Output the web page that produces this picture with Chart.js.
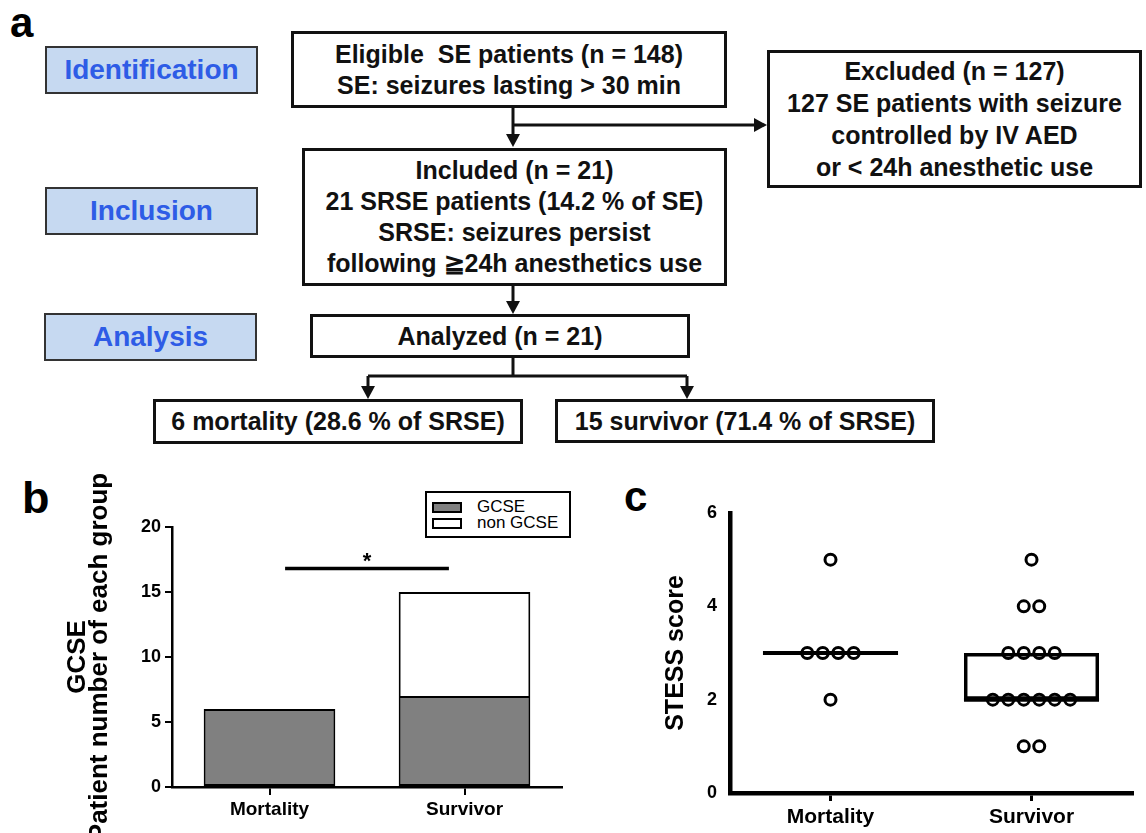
<!DOCTYPE html>
<html>
<head>
<meta charset="utf-8">
<script src="https://cdn.jsdelivr.net/npm/chart.js@4"></script>
<style>
  body { margin: 0; width: 1146px; height: 833px; background: #fff; position: relative; overflow: hidden;
         font-family: "Liberation Sans", Arial, sans-serif; }
  .abs { position: absolute; box-sizing: border-box; }
  .box { border: 3px solid #111; display: flex; flex-direction: column; justify-content: center; align-items: center;
         text-align: center; font-weight: bold; font-size: 25px; line-height: 31px; color: #111; white-space: nowrap; background: #fff; }
  .stage { border: 2px solid #333; background: #c6d9f1; color: #2e5ce6; font-weight: bold; font-size: 28px;
           display: flex; justify-content: center; align-items: center; }
  .panel { font-weight: bold; color: #000; line-height: 1; }
  #legendB { border: 2px solid #000; background: #fff; font-size: 17px; color: #000; }
  #legendB .sw { position: absolute; width: 30px; height: 11px; border: 2px solid #000; box-sizing: border-box; }
  #legendB .lb { position: absolute; line-height: 16px; white-space: nowrap; }
</style>
</head>
<body>

<div class="abs panel" style="left:10px;top:2px;font-size:42px;">a</div>
<div class="abs panel" style="left:22px;top:475px;font-size:45px;">b</div>
<div class="abs panel" style="left:624px;top:476px;font-size:42px;">c</div>

<!-- flow chart, panel a -->
<div class="abs stage" style="left:45px;top:46px;width:213px;height:48px;">Identification</div>
<div class="abs stage" style="left:45px;top:187px;width:213px;height:48px;">Inclusion</div>
<div class="abs stage" style="left:44px;top:313px;width:213px;height:48px;">Analysis</div>

<div class="abs box" style="left:291px;top:31px;width:436px;height:77px;">
  <div>Eligible&nbsp; SE patients (n = 148)</div>
  <div>SE: seizures lasting &gt; 30 min</div>
</div>
<div class="abs box" style="left:767px;top:50px;width:375px;height:138px;line-height:32px;">
  <div>Excluded (n = 127)</div>
  <div>127 SE patients with seizure</div>
  <div>controlled by IV AED</div>
  <div>or &lt; 24h anesthetic use</div>
</div>
<div class="abs box" style="left:302px;top:148px;width:425px;height:138px;">
  <div>Included (n = 21)</div>
  <div>21 SRSE patients (14.2 % of SE)</div>
  <div>SRSE: seizures persist</div>
  <div>following ≧24h anesthetics use</div>
</div>
<div class="abs box" style="left:310px;top:314px;width:380px;height:44px;">
  <div>Analyzed (n = 21)</div>
</div>
<div class="abs box" style="left:153px;top:399px;width:370px;height:45px;">
  <div>6 mortality (28.6 % of SRSE)</div>
</div>
<div class="abs box" style="left:555px;top:399px;width:380px;height:44px;">
  <div>15 survivor (71.4 % of SRSE)</div>
</div>

<svg class="abs" style="left:0;top:0;" width="1146" height="470">
  <g stroke="#111" stroke-width="3" fill="none">
    <line x1="513" y1="108" x2="513" y2="136"/>
    <line x1="513" y1="125" x2="756" y2="125"/>
    <line x1="513" y1="286" x2="513" y2="303"/>
    <line x1="513" y1="358" x2="513" y2="377"/>
    <line x1="368" y1="376" x2="687" y2="376"/>
    <line x1="368" y1="376" x2="368" y2="388"/>
    <line x1="687" y1="376" x2="687" y2="388"/>
  </g>
  <g fill="#111">
    <polygon points="506,134 520,134 513,147"/>
    <polygon points="754,118 754,132 767,125"/>
    <polygon points="506,301 520,301 513,314"/>
    <polygon points="361,386 375,386 368,399"/>
    <polygon points="680,386 694,386 687,399"/>
  </g>
</svg>

<div id="legendB" class="abs" style="left:425px;top:491px;width:146px;height:47px;"></div>

<canvas id="chartB" class="abs" style="left:0;top:470px;" width="580" height="363"></canvas>
<canvas id="chartC" class="abs" style="left:580px;top:470px;" width="566" height="363"></canvas>

<script>
// panel b data
const groups = ['Mortality', 'Survivor'];
const gcseCounts = [6, 7];
const nonGcseCounts = [0, 8];
const seriesNames = ['GCSE', 'non GCSE'];
const seriesFills = ['#808080', '#ffffff'];
const countTicks = [0, 5, 10, 15, 20];
const sigLevel = 16.8;
const sigSpan = [0.08, 0.92];

// panel c data
const mortalityStess = [5, 3, 3, 3, 3, 2];
const survivorStess = [5, 4, 4, 3, 3, 3, 3, 2, 2, 2, 2, 2, 2, 1, 1];
const boxLow = [3, 2];
const boxHigh = [3, 3];
const medians = [3, 2];
const stessTicks = [0, 2, 4, 6];

Chart.defaults.font.family = '"Liberation Sans", Arial, sans-serif';
Chart.defaults.color = '#000';
Chart.defaults.animation = false;

// html legend built from the series names
const legendEl = document.getElementById('legendB');
seriesNames.forEach((name, i) => {
    const sw = document.createElement('span');
    sw.className = 'sw';
    sw.style.left = '5px';
    sw.style.top = (9 + i * 16) + 'px';
    sw.style.background = seriesFills[i];
    legendEl.appendChild(sw);
    const lb = document.createElement('span');
    lb.className = 'lb';
    lb.style.left = '50px';
    lb.style.top = (6 + i * 16) + 'px';
    lb.textContent = name;
    legendEl.appendChild(lb);
});

const sigPlugin = {
    id: 'sig',
    afterDatasetsDraw(chart) {
        const { ctx, scales: { x, y } } = chart;
        const yy = y.getPixelForValue(sigLevel);
        const x0 = x.getPixelForValue(sigSpan[0]);
        const x1 = x.getPixelForValue(sigSpan[1]);
        ctx.save();
        ctx.strokeStyle = '#000';
        ctx.lineWidth = 3.5;
        ctx.beginPath();
        ctx.moveTo(x0, yy);
        ctx.lineTo(x1, yy);
        ctx.stroke();
        ctx.fillStyle = '#000';
        ctx.font = 'bold 22px "Liberation Sans", Arial, sans-serif';
        ctx.textAlign = 'center';
        ctx.textBaseline = 'alphabetic';
        ctx.fillText('*', (x0 + x1) / 2, yy - 1);
        ctx.restore();
    }
};

new Chart(document.getElementById('chartB'), {
    type: 'bar',
    data: {
        labels: groups,
        datasets: [
            {
                label: seriesNames[0],
                data: gcseCounts,
                backgroundColor: seriesFills[0],
                borderColor: '#000',
                borderWidth: 2,
                borderSkipped: false,
            },
            {
                label: seriesNames[1],
                data: nonGcseCounts,
                backgroundColor: seriesFills[1],
                borderColor: '#000',
                borderWidth: 2,
                borderSkipped: 'start', // shares the edge with the grey segment below
            },
        ],
    },
    options: {
        responsive: false,
        categoryPercentage: 1,
        barPercentage: 0.675,
        layout: { padding: { top: 57, right: 18, left: 0, bottom: 0 } },
        plugins: { legend: { display: false }, tooltip: { enabled: false } },
        scales: {
            x: {
                stacked: true,
                grid: { offset: false, drawOnChartArea: false, tickLength: 8, color: '#000', lineWidth: 2 },
                border: { color: '#000', width: 2.5 },
                ticks: { font: { size: 19, weight: 'bold' }, padding: 3 },
                afterFit: (s) => { s.height = 46; },
            },
            y: {
                stacked: true,
                min: countTicks[0],
                max: countTicks[countTicks.length - 1],
                afterBuildTicks: (s) => { s.ticks = countTicks.map(v => ({ value: v })); },
                grid: { drawOnChartArea: false, tickLength: 7, color: '#000', lineWidth: 2 },
                border: { color: '#000', width: 2.5 },
                ticks: { font: { size: 18, weight: 'bold' }, padding: 4 },
                title: {
                    display: true,
                    text: ['GCSE', 'Patient number of each group'],
                    font: { size: 26, weight: 'bold', lineHeight: 0.88 },
                    padding: { top: 66, bottom: 0 },
                },
                afterFit: (s) => { s.width = 172; },
            },
        },
    },
    plugins: [sigPlugin],
});

// spread equal values side by side around the group position
const dotGap = 0.077;
function swarm(values, center) {
    const counts = {};
    values.forEach(v => { counts[v] = (counts[v] || 0) + 1; });
    const seen = {};
    return values.map(v => {
        seen[v] = (seen[v] || 0) + 1;
        return { x: center + (seen[v] - 1 - (counts[v] - 1) / 2) * dotGap, y: v };
    });
}
const halfBox = 0.336;

new Chart(document.getElementById('chartC'), {
    type: 'bar',
    data: {
        datasets: [
            {
                type: 'line',
                data: swarm(mortalityStess, 0).concat(swarm(survivorStess, 1)),
                showLine: false,
                pointRadius: 5.5,
                pointBorderWidth: 3,
                pointBorderColor: '#000',
                pointBackgroundColor: 'rgba(0,0,0,0)',
                order: 0,
            },
            ...medians.map((m, i) => ({
                type: 'line',
                data: [{ x: i - halfBox, y: m }, { x: i + halfBox, y: m }],
                borderColor: '#000',
                borderWidth: 4,
                pointRadius: 0,
                order: 1,
            })),
            {
                type: 'bar',
                data: boxLow.map((lo, i) => ({ x: i, y: [lo, boxHigh[i]] })),
                backgroundColor: 'rgba(0,0,0,0)',
                borderColor: '#000',
                borderWidth: 3.5,
                borderSkipped: false,
                categoryPercentage: 1,
                barPercentage: 0.672,
                order: 2,
            },
        ],
    },
    options: {
        responsive: false,
        layout: { padding: { top: 43, right: 14, left: 0, bottom: 0 } },
        plugins: { legend: { display: false }, tooltip: { enabled: false } },
        scales: {
            x: {
                type: 'linear',
                offset: false,
                min: -0.5,
                max: 1.5,
                afterBuildTicks: (s) => { s.ticks = groups.map((g, i) => ({ value: i })); },
                grid: { offset: false, drawOnChartArea: false, tickLength: 8, color: '#000', lineWidth: 3 },
                border: { color: '#000', width: 4.5 },
                ticks: { font: { size: 21, weight: 'bold' }, padding: 4, callback: (v) => groups[v] },
                afterFit: (s) => { s.height = 40; },
            },
            y: {
                min: stessTicks[0],
                max: stessTicks[stessTicks.length - 1],
                afterBuildTicks: (s) => { s.ticks = stessTicks.map(v => ({ value: v })); },
                grid: { drawOnChartArea: false, drawTicks: false, color: '#000' },
                border: { color: '#000', width: 4.5 },
                ticks: { font: { size: 18, weight: 'bold' }, padding: 13 },
                title: {
                    display: true,
                    text: 'STESS score',
                    font: { size: 25, weight: 'bold' },
                    padding: { top: 81, bottom: 0 },
                },
                afterFit: (s) => { s.width = 150; },
            },
        },
    },
});
</script>
</body>
</html>
